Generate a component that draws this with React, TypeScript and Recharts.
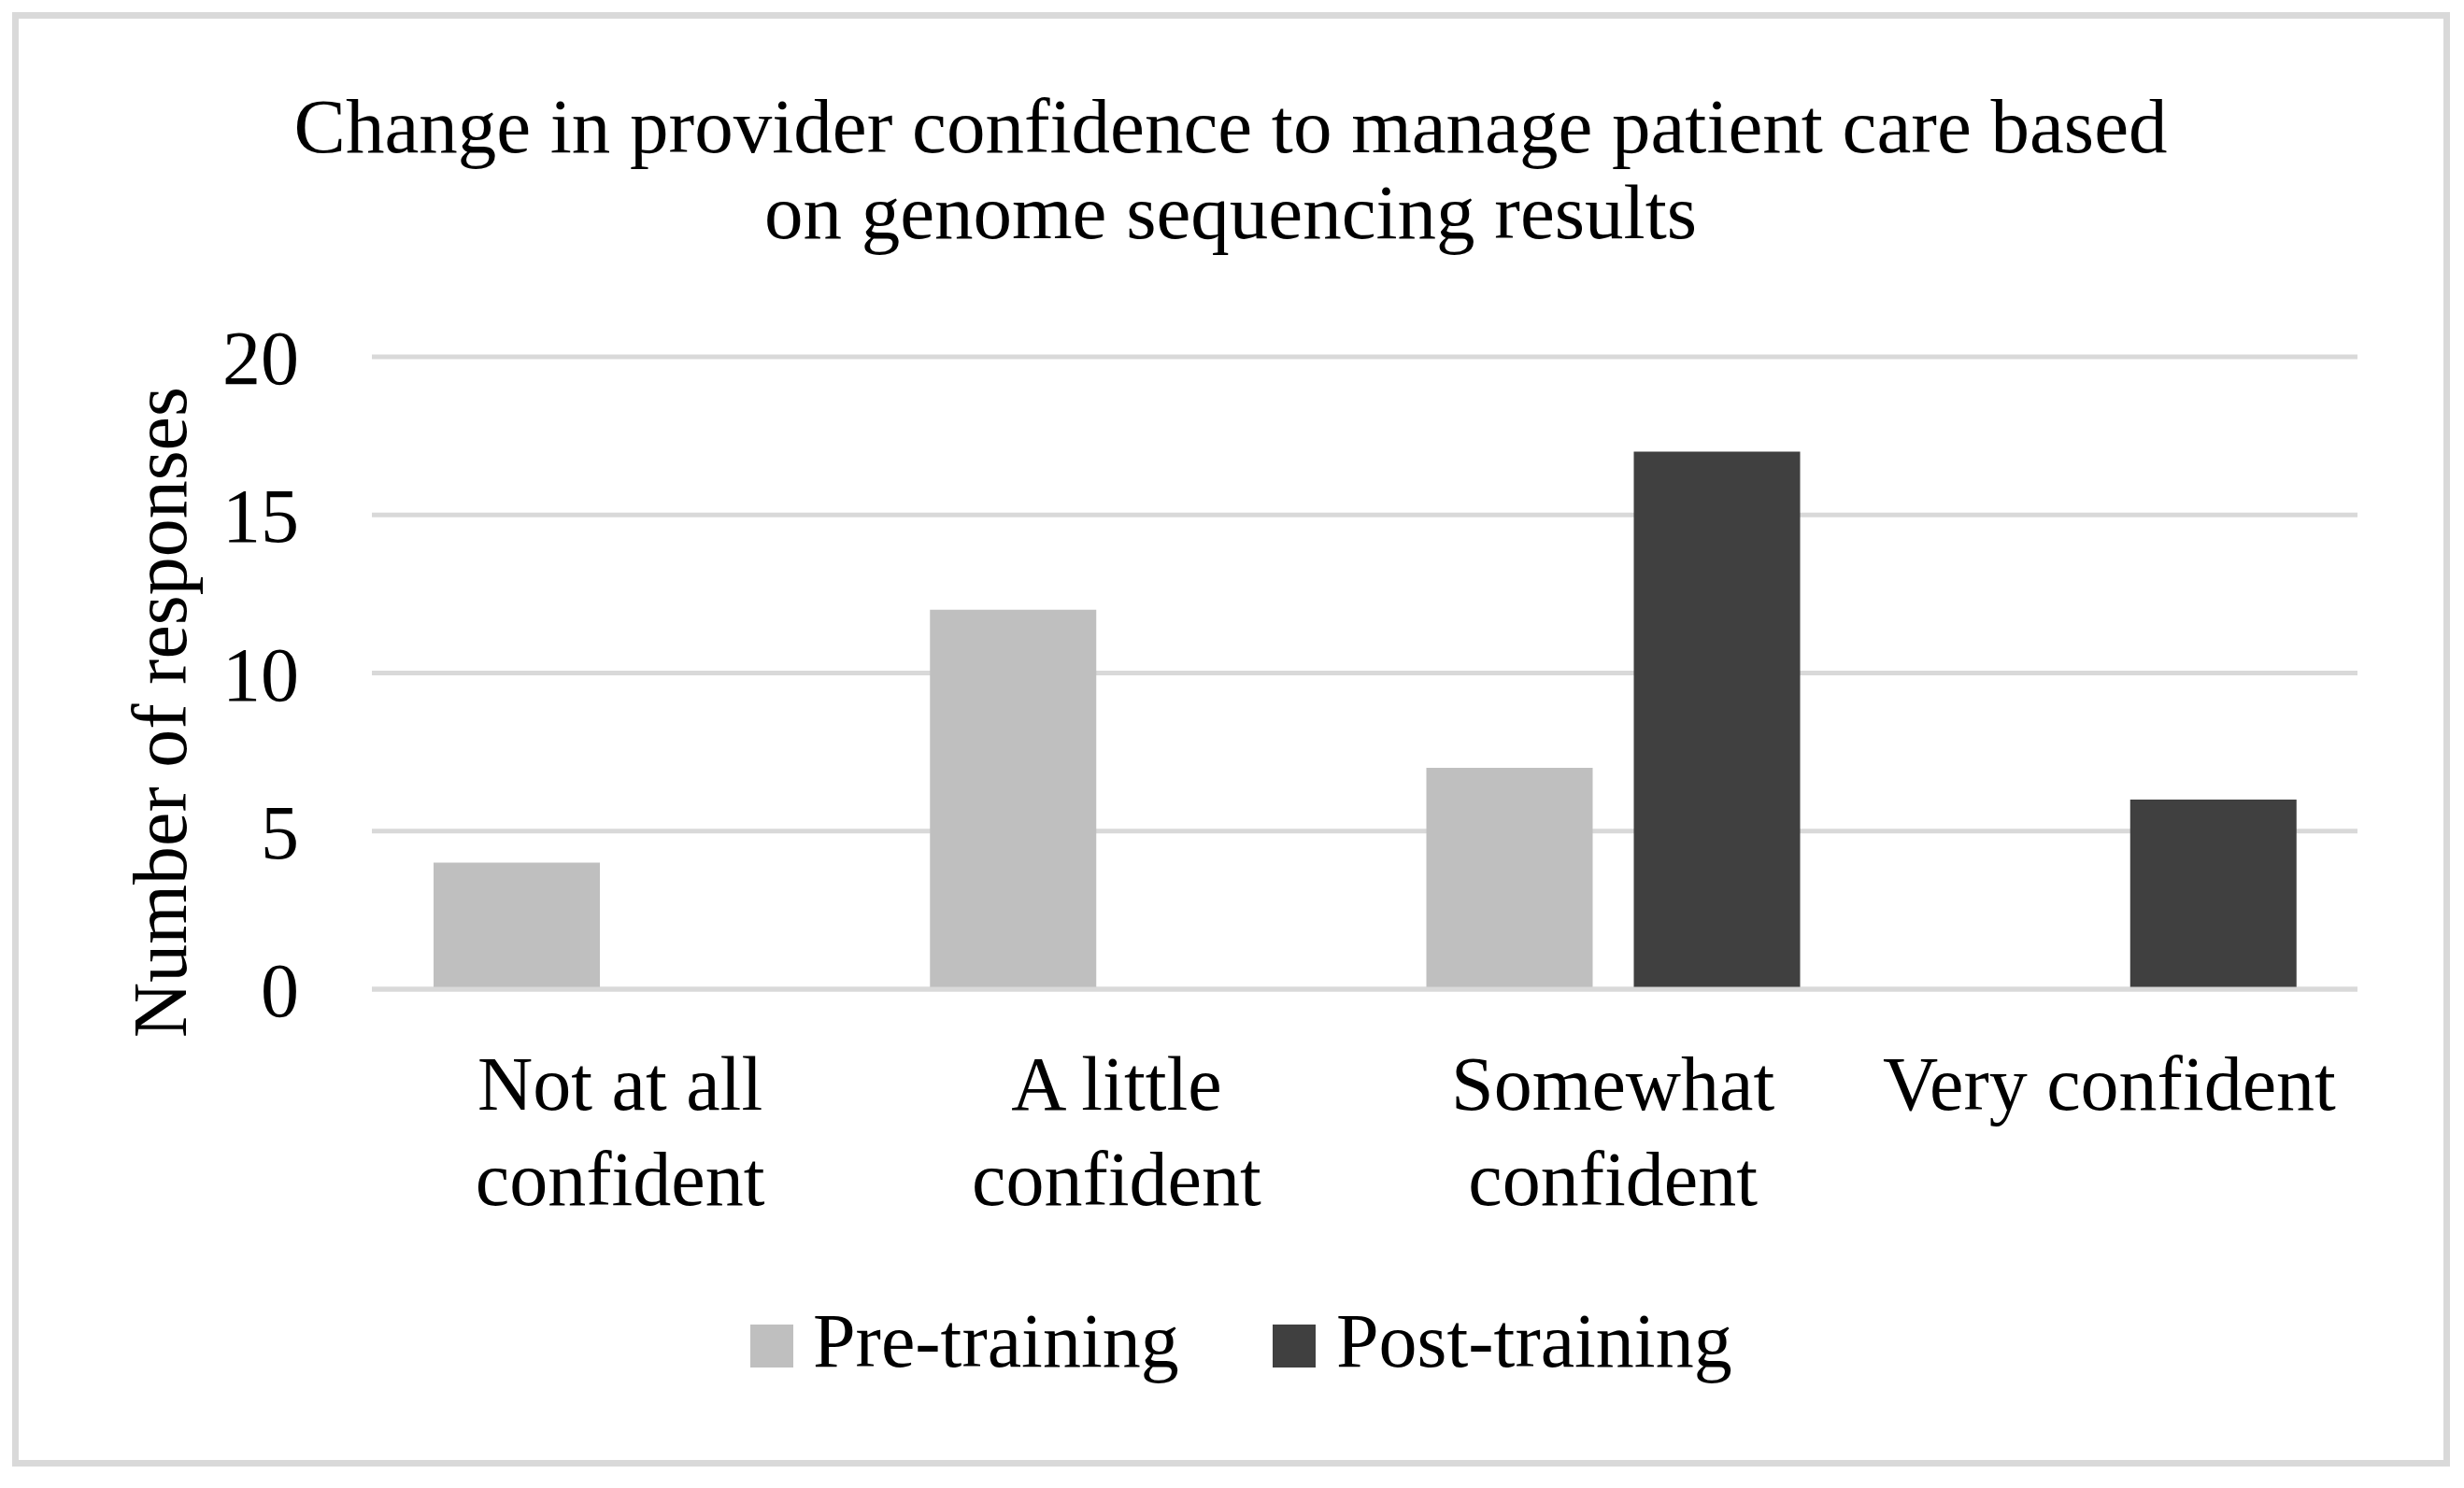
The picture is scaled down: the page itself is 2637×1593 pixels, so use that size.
import { Bar, BarChart, CartesianGrid, Legend, XAxis, YAxis } from "recharts";

const categories = ["Not at all confident", "A little confident", "Somewhat confident", "Very confident"];
const categoryLines = [["Not at all", "confident"], ["A little", "confident"], ["Somewhat", "confident"], ["Very confident"]];
const preTraining = [4, 12, 7, 0];
const postTraining = [0, 0, 17, 6];
const yTicks = [0, 5, 10, 15, 20];
const seriesOrder = ["Pre-training", "Post-training"];
const titleLines = ["Change in provider confidence to manage patient care based", "on genome sequencing results"];

const data = categories.map((c, i) => ({ category: c, pre: preTraining[i], post: postTraining[i] }));

const FONT = "'Liberation Serif', 'Times New Roman', serif";
const FS = 82;
const W = 2621;
const H = 1577;
const GRID = "#d9d9d9";

function CategoryTick({ x, y, payload }: any) {
  const lines = categoryLines[categories.indexOf(payload.value)] ?? [payload.value];
  return (
    <text x={x} y={y} textAnchor="middle" fontFamily={FONT} fontSize={FS} fill="#000">
      {lines.map((l, i) => (
        <tspan key={i} x={x} y={y + 129 + i * 102}>
          {l}
        </tspan>
      ))}
    </text>
  );
}

function YTitle(props: any) {
  const vb = props.viewBox ?? { x: 0, y: 374, width: 390, height: 677 };
  const x = vb.x + 191;
  const y = vb.y + vb.height / 2 + 42;
  return (
    <text
      x={x}
      y={y}
      textAnchor="middle"
      fontFamily={FONT}
      fontSize={FS}
      fill="#000"
      transform={`rotate(-90 ${x} ${y})`}
    >
      Number of responses
    </text>
  );
}

// legend swatch / text x positions
const legendPos = [
  { box: 795, text: 862 },
  { box: 1354, text: 1422 },
];

function LegendContent({ payload }: any) {
  const items = [...(payload ?? [])].sort(
    (a: any, b: any) => seriesOrder.indexOf(a.value) - seriesOrder.indexOf(b.value)
  );
  return (
    <svg width={W} height={140} style={{ overflow: "visible", display: "block" }}>
      {items.map((p: any, i: number) => (
        <g key={p.value}>
          <rect x={legendPos[i].box} y={18} width={46} height={46} fill={p.color} />
          <text x={legendPos[i].text} y={63} fontFamily={FONT} fontSize={FS} fill="#000">
            {p.value}
          </text>
        </g>
      ))}
    </svg>
  );
}

export default function App() {
  return (
    <div style={{ position: "relative", width: W, height: H, background: "#fff" }}>
      <div
        style={{
          position: "absolute",
          left: 5,
          top: 5,
          width: 2609,
          height: 1557,
          border: `7px solid ${GRID}`,
          boxSizing: "border-box",
        }}
      />
      <BarChart
        width={W}
        height={H}
        data={data}
        margin={{ top: 374, right: 106, bottom: 0, left: 0 }}
        barSize={178}
        barGap={44}
      >
        <CartesianGrid vertical={false} stroke={GRID} strokeWidth={5} />
        <XAxis
          dataKey="category"
          height={526}
          interval={0}
          tickLine={false}
          tickSize={0}
          tickMargin={0}
          axisLine={{ stroke: GRID, strokeWidth: 5 }}
          tick={<CategoryTick />}
        />
        <YAxis
          width={390}
          domain={[0, 20]}
          ticks={yTicks}
          interval={0}
          tickLine={false}
          axisLine={false}
          tickSize={0}
          tickMargin={78}
          tick={{ fill: "#000", fontSize: FS, fontFamily: FONT }}
          label={<YTitle />}
        />
        <Legend
          layout="horizontal"
          verticalAlign="middle"
          content={<LegendContent />}
          wrapperStyle={{ top: 1392, left: 0, width: W, height: 140 }}
        />
        <Bar dataKey="pre" name="Pre-training" fill="#bfbfbf" isAnimationActive={false} />
        <Bar dataKey="post" name="Post-training" fill="#404040" isAnimationActive={false} />
      </BarChart>
      <svg
        width={W}
        height={300}
        style={{ position: "absolute", left: 0, top: 0, pointerEvents: "none" }}
      >
        {titleLines.map((t, i) => (
          <text key={i} x={1309} y={155 + i * 92} textAnchor="middle" fontFamily={FONT} fontSize={83} fill="#000">
            {t}
          </text>
        ))}
      </svg>
    </div>
  );
}
